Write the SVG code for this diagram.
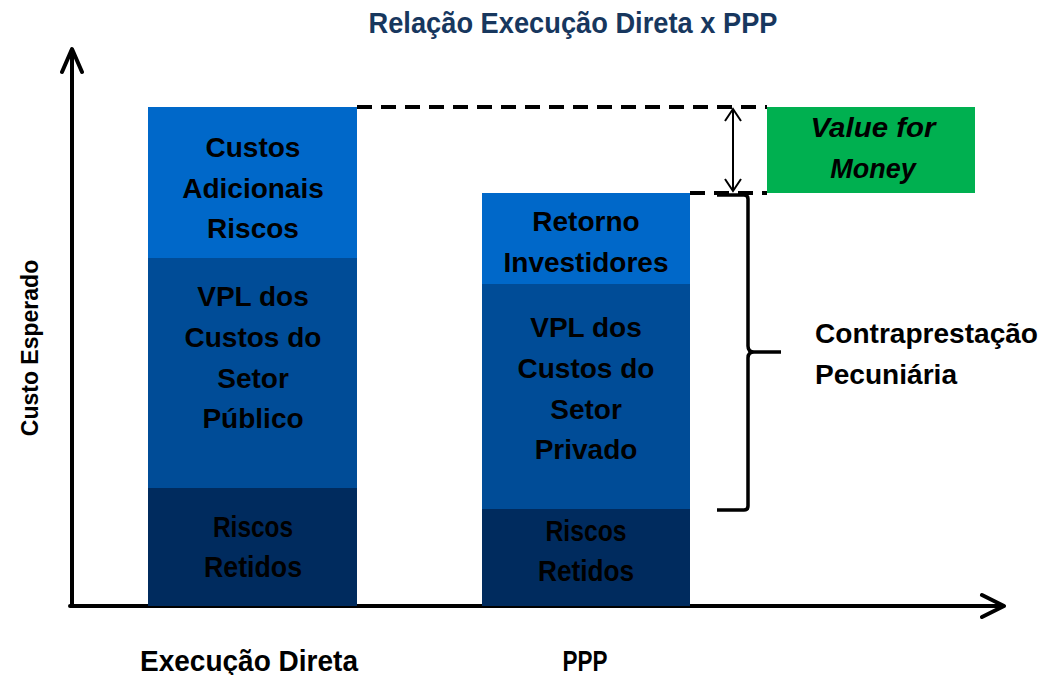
<svg xmlns="http://www.w3.org/2000/svg" width="1041" height="675" viewBox="0 0 1041 675">
<style>
.t{font-family:"Liberation Sans",Arial,sans-serif;font-weight:bold;fill:#000;text-anchor:middle}
.c{font-family:"Liberation Sans",Arial,sans-serif;font-weight:bold;fill:#000;text-anchor:middle}
.l1{fill:#0068C9}.l2{fill:#004C97}.l3{fill:#002B5E}
.ax{stroke:#000;stroke-width:4;fill:none;stroke-linecap:round;stroke-linejoin:round}
.dash{stroke:#000;stroke-width:4;stroke-dasharray:15 9;fill:none}
</style>
<rect width="1041" height="675" fill="#fff"/>
<text class="c" x="573" y="33" font-size="29" style="fill:#17375E" textLength="409" lengthAdjust="spacingAndGlyphs">Relação Execução Direta x PPP</text>
<g id="connectors">
<path class="ax" d="M72 606 V50 M62 72 L72 49 L82 72"/>
<path class="ax" d="M70 606 H1003 M982 595 L1004 606 L982 617"/>
<path class="dash" d="M357 107 H767"/>
<path class="dash" d="M690 193 H767"/>
<path d="M733 109 V191 M725 121 L733 109 L741 121 M725 179 L733 191 L741 179" stroke="#000" stroke-width="2" fill="none"/>
<path d="M717 195 H744 Q748 195 748 199 V346 Q748 352 754 352 H781 M754 352 Q748 352 748 358 V506 Q748 510 744 510 H717" stroke="#000" stroke-width="3.5" fill="none"/>
</g>
<g id="bar-execucao">
<rect class="l1" x="148" y="107" width="209" height="151"/>
<rect class="l2" x="148" y="258" width="209" height="230"/>
<rect class="l3" x="148" y="488" width="209" height="118"/>
<text class="t" font-size="28" x="253" y="157">Custos</text>
<text class="t" font-size="28" x="253" y="198">Adicionais</text>
<text class="t" font-size="28" x="253" y="238">Riscos</text>
<text class="t" font-size="28" x="253" y="306">VPL dos</text>
<text class="t" font-size="28" x="253" y="347">Custos do</text>
<text class="t" font-size="28" x="253" y="388">Setor</text>
<text class="t" font-size="28" x="253" y="428">Público</text>
<text class="c" font-size="30" x="253" y="537" textLength="80" lengthAdjust="spacingAndGlyphs">Riscos</text>
<text class="c" font-size="30" x="253" y="577" textLength="98" lengthAdjust="spacingAndGlyphs">Retidos</text>
</g>
<g id="bar-ppp">
<rect class="l1" x="482" y="193" width="208" height="91"/>
<rect class="l2" x="482" y="284" width="208" height="225"/>
<rect class="l3" x="482" y="509" width="208" height="97"/>
<text class="t" font-size="28" x="586" y="231">Retorno</text>
<text class="t" font-size="28" x="586" y="272">Investidores</text>
<text class="t" font-size="28" x="586" y="337">VPL dos</text>
<text class="t" font-size="28" x="586" y="378">Custos do</text>
<text class="t" font-size="28" x="586" y="419">Setor</text>
<text class="t" font-size="28" x="586" y="459">Privado</text>
<text class="c" font-size="30" x="586" y="541" textLength="81" lengthAdjust="spacingAndGlyphs">Riscos</text>
<text class="c" font-size="30" x="586" y="581" textLength="96" lengthAdjust="spacingAndGlyphs">Retidos</text>
</g>
<g id="value-for-money">
<rect x="767" y="107" width="208" height="86" fill="#00B050"/>
<text class="t" font-size="27" font-style="italic" x="873" y="137" textLength="125" lengthAdjust="spacingAndGlyphs">Value for</text>
<text class="t" font-size="27" font-style="italic" x="873" y="178">Money</text>
</g>
<g id="contraprestacao">
<text font-family="Liberation Sans, Arial, sans-serif" font-weight="bold" font-size="27" x="815" y="343" textLength="223" lengthAdjust="spacingAndGlyphs">Contraprestação</text>
<text font-family="Liberation Sans, Arial, sans-serif" font-weight="bold" font-size="27" x="815" y="384" textLength="142" lengthAdjust="spacingAndGlyphs">Pecuniária</text>
</g>
<g id="axis-labels">
<text class="t" font-size="23" transform="translate(38 348) rotate(-90)">Custo Esperado</text>
<text class="c" font-size="30" x="249" y="671" textLength="218" lengthAdjust="spacingAndGlyphs">Execução Direta</text>
<text class="c" font-size="30" x="585" y="671" textLength="45" lengthAdjust="spacingAndGlyphs">PPP</text>
</g>
</svg>
